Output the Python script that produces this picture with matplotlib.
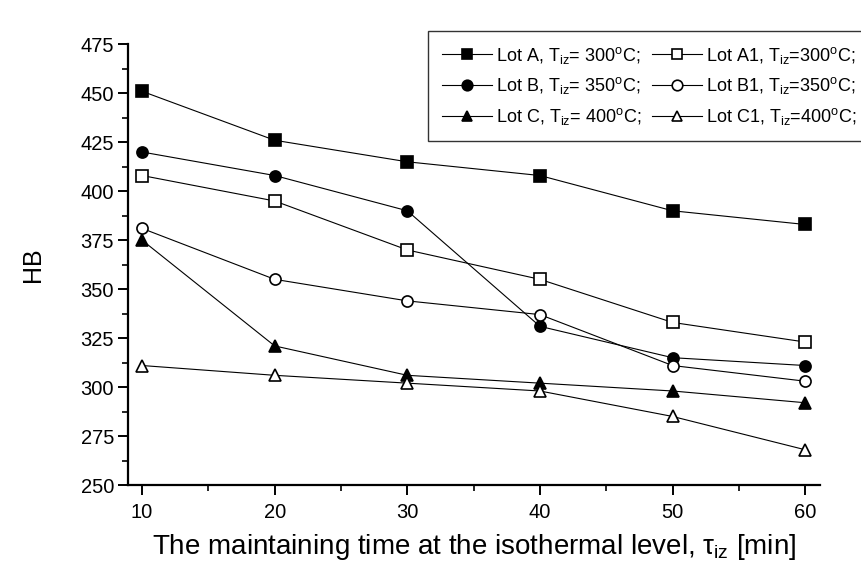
import matplotlib
matplotlib.use("Agg")
import matplotlib.pyplot as plt
from matplotlib.ticker import MultipleLocator

plt.rcParams['font.family'] = ['Liberation Sans', 'DejaVu Sans']
plt.rcParams['mathtext.fontset'] = 'custom'
plt.rcParams['mathtext.rm'] = 'Liberation Sans'
plt.rcParams['mathtext.it'] = 'Liberation Sans'

# 数据
time_min = [10, 20, 30, 40, 50, 60]
lot_a = [451, 426, 415, 408, 390, 383]
lot_b = [420, 408, 390, 331, 315, 311]
lot_c = [375, 321, 306, 302, 298, 292]
lot_a1 = [408, 395, 370, 355, 333, 323]
lot_b1 = [381, 355, 344, 337, 311, 303]
lot_c1 = [311, 306, 302, 298, 285, 268]

labels = [
    r'Lot A, T$_{\rm iz}$= 300$^{\rm o}$C;',
    r'Lot B, T$_{\rm iz}$= 350$^{\rm o}$C;',
    r'Lot C, T$_{\rm iz}$= 400$^{\rm o}$C;',
    r'Lot A1, T$_{\rm iz}$=300$^{\rm o}$C;',
    r'Lot B1, T$_{\rm iz}$=350$^{\rm o}$C;',
    r'Lot C1, T$_{\rm iz}$=400$^{\rm o}$C;',
]
series = [lot_a, lot_b, lot_c, lot_a1, lot_b1, lot_c1]
markers = ['s', 'o', '^', 's', 'o', '^']
faces = ['black', 'black', 'black', 'white', 'white', 'white']

fig = plt.figure(figsize=(8.62, 5.75), dpi=100)
ax = fig.add_axes([0.1485, 0.1565, 0.8025, 0.7665])

for y, m, fc, lab in zip(series, markers, faces, labels):
    ax.plot(time_min, y, color='black', lw=0.8, marker=m, markersize=8,
            markerfacecolor=fc, markeredgecolor='black', markeredgewidth=1.2,
            label=lab)

ax.set_xlim(8.94, 61.1)
ax.set_ylim(250, 475)
ax.xaxis.set_major_locator(MultipleLocator(10))
ax.xaxis.set_minor_locator(MultipleLocator(5))
ax.yaxis.set_major_locator(MultipleLocator(25))
ax.yaxis.set_minor_locator(MultipleLocator(12.5))
ax.tick_params(which='major', direction='out', length=7, width=1.4, labelsize=14.5)
ax.tick_params(axis='y', which='major', pad=3)
ax.tick_params(axis='x', which='major', pad=6)
ax.tick_params(which='minor', direction='out', length=4, width=1.2)

for s in ['top', 'right']:
    ax.spines[s].set_visible(False)
for s in ['left', 'bottom']:
    ax.spines[s].set_linewidth(1.6)

ax.set_ylabel('HB', fontsize=18, labelpad=26)
ax.set_xlabel(r'The maintaining time at the isothermal level, $\tau_{\rm iz}$ [min]',
              fontsize=20, labelpad=7)

leg = ax.legend(loc='upper left', bbox_to_anchor=(428 / 862, 1 - 31 / 575),
                bbox_transform=fig.transFigure, borderaxespad=0, ncol=2,
                fontsize=13, frameon=True, fancybox=False, edgecolor='black',
                handlelength=2.8, handletextpad=0.2, columnspacing=0.6,
                labelspacing=0.55, borderpad=0.75, markerscale=0.95)
leg.get_frame().set_linewidth(1.0)

fig.savefig('out.png', dpi=100)
